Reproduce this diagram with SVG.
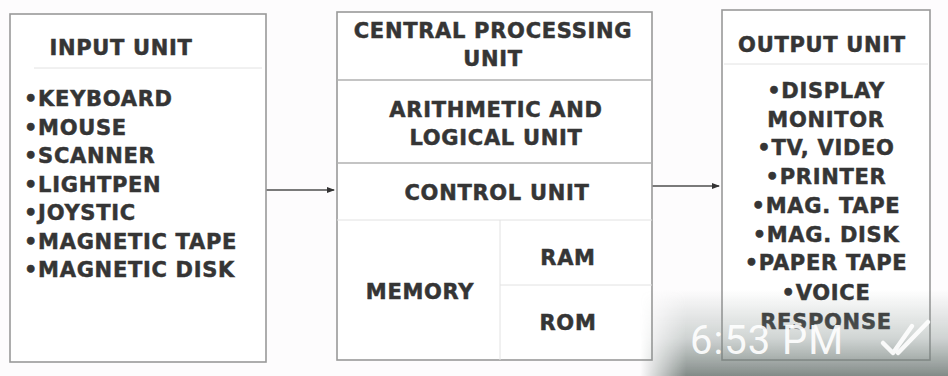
<svg xmlns="http://www.w3.org/2000/svg" width="948" height="376" viewBox="0 0 948 376">
<defs>
<style>
.box{fill:#fff;stroke:#999;stroke-width:1.6}
.div{stroke:#b0b0b0;stroke-width:1.3;fill:none}
.faint{stroke:#e2e2e2;stroke-width:1;fill:none}
.t{font-family:"DejaVu Sans",Verdana,sans-serif;font-weight:bold;font-size:21px;letter-spacing:0.7px;fill:#353535;stroke:#353535;stroke-width:0.5}
.c{text-anchor:middle}
.conn{stroke:#7a7a7a;stroke-width:2;fill:none;marker-end:url(#dot)}
.ts{font-family:Roboto,"Liberation Sans",sans-serif;font-size:40px;fill:#ffffff;fill-opacity:0.92}
</style>
<marker id="dot" viewBox="0 0 8 8" refX="7" refY="4" markerWidth="4" markerHeight="4" orient="auto" markerUnits="strokeWidth">
<path d="M0,1 L8,4 L0,7 Z" fill="#333"/>
</marker>
<linearGradient id="shade" x1="0" y1="0" x2="0" y2="1">
<stop offset="0" stop-color="#7d8a86" stop-opacity="0"/>
<stop offset="0.55" stop-color="#7d8a86" stop-opacity="0.35"/>
<stop offset="1" stop-color="#6c7672" stop-opacity="0.85"/>
</linearGradient>
<linearGradient id="shadeH" x1="0" y1="0" x2="1" y2="0">
<stop offset="0" stop-color="#fff" stop-opacity="0"/>
<stop offset="0.15" stop-color="#fff" stop-opacity="1"/>
<stop offset="1" stop-color="#fff" stop-opacity="1"/>
</linearGradient>
<mask id="m"><rect x="640" y="290" width="308" height="86" fill="url(#shadeH)"/></mask>
</defs>
<rect width="948" height="376" fill="#fdfcfd"/>

<g id="connectors">
<line class="conn" x1="266" y1="190" x2="334" y2="190"/>
<line class="conn" x1="652" y1="186" x2="719" y2="186"/>
</g>

<g id="input-unit">
<rect class="box" x="10" y="14" width="256" height="348"/>
<line class="faint" x1="34" y1="68" x2="262" y2="68"/>
<text class="t c" x="121" y="55">INPUT UNIT</text>
<text class="t" x="24" y="106">•KEYBOARD</text>
<text class="t" x="24" y="135">•MOUSE</text>
<text class="t" x="24" y="163">•SCANNER</text>
<text class="t" x="24" y="192">•LIGHTPEN</text>
<text class="t" x="24" y="220">•JOYSTIC</text>
<text class="t" x="24" y="249">•MAGNETIC TAPE</text>
<text class="t" x="24" y="277">•MAGNETIC DISK</text>
</g>

<g id="cpu">
<rect class="box" x="337" y="12" width="315" height="348"/>
<line class="div" x1="337" y1="80" x2="652" y2="80"/>
<line class="div" x1="337" y1="163" x2="652" y2="163"/>
<line class="faint" x1="337" y1="220" x2="652" y2="220"/>
<text class="t c" x="493" y="38">CENTRAL PROCESSING</text>
<text class="t c" x="493" y="66">UNIT</text>
</g>

<g id="alu">
<text class="t c" x="496" y="117">ARITHMETIC AND</text>
<text class="t c" x="496" y="145">LOGICAL UNIT</text>
</g>

<g id="control-unit">
<text class="t c" x="497" y="200">CONTROL UNIT</text>
</g>

<g id="memory">
<line class="faint" x1="500" y1="220" x2="500" y2="360"/>
<text class="t c" x="420" y="299">MEMORY</text>
</g>

<g id="ram">
<text class="t c" x="568" y="265">RAM</text>
</g>

<g id="rom">
<line class="faint" x1="500" y1="285" x2="652" y2="285"/>
<text class="t c" x="568" y="330">ROM</text>
</g>

<g id="output-unit">
<rect class="box" x="722" y="10" width="208" height="350"/>
<line class="faint" x1="724" y1="64" x2="928" y2="64"/>
<text class="t c" x="822" y="52">OUTPUT UNIT</text>
<text class="t c" x="826" y="98">•DISPLAY</text>
<text class="t c" x="826" y="127">MONITOR</text>
<text class="t c" x="826" y="155">•TV, VIDEO</text>
<text class="t c" x="826" y="184">•PRINTER</text>
<text class="t c" x="826" y="213">•MAG. TAPE</text>
<text class="t c" x="826" y="242">•MAG. DISK</text>
<text class="t c" x="826" y="270">•PAPER TAPE</text>
<text class="t c" x="826" y="300">•VOICE</text>
<text class="t c" x="826" y="329">RESPONSE</text>
</g>

<g id="timestamp">
<rect x="640" y="290" width="308" height="86" fill="url(#shade)" mask="url(#m)"/>
<text class="ts" x="690" y="354" letter-spacing="1">6:53 PM</text>
<path d="M883,343 L893,353 L912,326 M898,353 L928,322" stroke="#fff" stroke-opacity="0.9" stroke-width="4.5" fill="none" stroke-linecap="round" stroke-linejoin="round"/>
</g>
</svg>
